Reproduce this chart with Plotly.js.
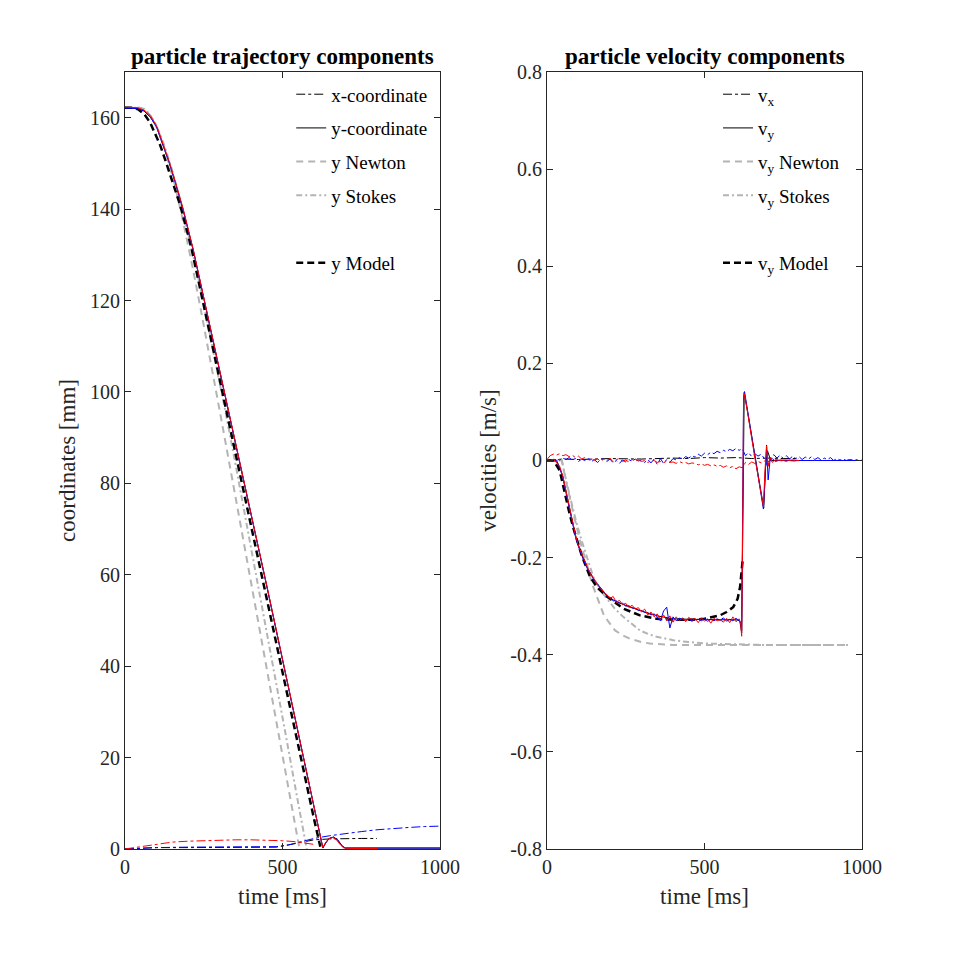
<!DOCTYPE html>
<html>
<head>
<meta charset="utf-8">
<script src="https://cdn.plot.ly/plotly-3.0.1.min.js"></script>
<style>
  html, body { margin: 0; padding: 0; background: #fff; }
  #chart { width: 958px; height: 954px; }
</style>
</head>
<body>
<div id="chart"></div>
<script>
// ---- left panel: positions [mm] over time [ms] ----
var tYRed = [0,20,40,60,80,100,122,140,160,185,217,250,300,350,400,450,500,550,590,610,628,635,645,659,670,685,695,720,760,803];
var yRed = [162.3,162.3,162.2,161.7,160.5,158.3,154.1,150.5,146.0,140.0,131.1,120.8,105.1,89.4,73.8,57.7,41.6,25.5,12.6,6.1,0.3,1.2,2.2,2.5,2.1,0.8,0.2,0.1,0.1,0.1];

var tYBlue = [0,20,40,60,80,100,122,140,160,185,217,250,300,350,400,450,500,550,590,610,628,637,648,662,675,690,700,720,800,900,1000];
var yBlue = [162.1,162.1,162.0,161.5,160.2,158.0,153.8,150.2,145.7,139.7,130.9,120.6,105.0,89.3,73.6,57.5,41.4,25.3,12.4,5.9,0.2,1.3,2.3,2.6,2.0,0.6,0.2,0.2,0.2,0.2,0.2];

var tXRed = [0,30,60,100,150,200,250,300,350,400,450,500,540,570,600];
var xRed = [0,0.3,0.7,1.1,1.5,1.7,1.85,1.95,2.0,2.0,1.95,1.8,1.6,1.3,1.0];

var tXBlue = [0,50,100,200,300,400,480,520,560,600,650,700,750,800,850,900,950,1000];
var xBlue = [0,0.2,0.3,0.4,0.4,0.45,0.5,0.9,1.6,2.3,2.9,3.4,3.8,4.2,4.5,4.7,4.9,5.0];

var tXBlk = [0,50,100,200,300,400,480,520,560,600,650,700,750,800];
var xBlk = [0,0.2,0.3,0.3,0.35,0.35,0.4,0.9,1.5,2.0,2.2,2.3,2.3,2.3];

var tYNew = [0,47,62,78,94,110,126,142,158,179,195,216,240,270,300,350,400,450,500,530,554];
var yNew = [162.2,162.2,161.8,160.7,158.8,156.3,153.2,149.5,145.3,139.1,133.9,126.8,118.2,107.4,96.1,77.3,58.3,39.3,20.3,8.9,0.0];

var tYSto = [0,47,62,78,94,110,126,147,170,190,215,242,270,295,320,348,401,450,507,545,577];
var ySto = [162.2,162.2,161.9,160.8,159.0,156.6,153.7,149.1,143.3,137.8,130.4,122.0,112.7,104.1,95.3,85.2,65.8,47.6,26.2,11.8,0.0];

var tYMod = [0,20,40,60,80,100,111,130,150,175,200,212,250,300,350,400,450,500,550,575,600,620];
var yMod = [162.2,162.2,161.9,160.9,158.9,156.0,154.1,150.3,146.2,140.9,134.4,131.1,118.9,102.8,86.7,70.6,54.5,38.4,22.3,14.2,6.6,0.5];

// ---- right panel: velocities [m/s] over time [ms] ----
var tVy = [0,10,20,30,40,50,60,70,80,90,100,110,120,130,140,150,160,170,180,190,200,210,220,230,240,250,260,270,280,290,300,310,320,330,340,350,360,370,380,390,400,410,420,430,440,450,460,470,480,490,500,510,520,530,540,550,560,570,580,590,600,610,615,618,621,624,627,630,640,650,660,670,680,687,692,697,702,708,715,725,740,760,780,800,850,900,950,1000];
var vyRed = [0.002,-0.001,0.003,-0.004,-0.012,-0.032,-0.062,-0.094,-0.128,-0.152,-0.176,-0.192,-0.210,-0.222,-0.236,-0.244,-0.256,-0.262,-0.272,-0.276,-0.284,-0.280,-0.292,-0.288,-0.297,-0.294,-0.303,-0.298,-0.306,-0.303,-0.312,-0.306,-0.318,-0.312,-0.322,-0.316,-0.328,-0.318,-0.330,-0.320,-0.333,-0.322,-0.330,-0.324,-0.332,-0.323,-0.329,-0.325,-0.334,-0.324,-0.331,-0.326,-0.335,-0.325,-0.330,-0.328,-0.333,-0.325,-0.334,-0.322,-0.332,-0.326,-0.338,-0.362,-0.150,0.120,0.138,0.125,0.085,0.045,0.005,-0.035,-0.075,-0.095,-0.020,0.030,-0.012,0.006,-0.004,0.002,0.000,0.001,-0.001,0.000];
var vyBlue = [0.000,0.001,-0.002,0.000,-0.014,-0.035,-0.066,-0.098,-0.130,-0.156,-0.178,-0.196,-0.212,-0.225,-0.234,-0.248,-0.254,-0.265,-0.270,-0.280,-0.283,-0.289,-0.289,-0.295,-0.294,-0.300,-0.299,-0.304,-0.304,-0.309,-0.309,-0.313,-0.314,-0.318,-0.316,-0.322,-0.330,-0.310,-0.302,-0.345,-0.322,-0.330,-0.325,-0.328,-0.330,-0.327,-0.331,-0.328,-0.327,-0.330,-0.326,-0.331,-0.327,-0.330,-0.326,-0.329,-0.324,-0.331,-0.327,-0.330,-0.325,-0.330,-0.334,-0.350,-0.050,0.130,0.142,0.130,0.090,0.050,0.010,-0.030,-0.072,-0.100,-0.040,0.032,-0.040,0.000,0.004,-0.002,0.001,0.000,0.001,0.000,0.000,0.000,0.000,0.000];

var tVyBlk = [0,30,50,70,90,110,130,150,170,190,210,240,270,300,350,400,450,500,550,600,612,618,622,626,640,660,680,688,694,700,710,730,800];
var vyBlk = [0,0,-0.032,-0.094,-0.154,-0.194,-0.223,-0.246,-0.263,-0.278,-0.287,-0.296,-0.303,-0.310,-0.320,-0.326,-0.327,-0.328,-0.328,-0.328,-0.330,-0.355,-0.100,0.140,0.088,0.008,-0.072,-0.098,-0.010,0.020,0.000,0.000,0.000];

var tVx = [0,10,20,30,40,50,60,70,80,90,100,110,120,130,140,150,160,170,180,190,200,210,220,230,240,250,260,270,280,290,300,310,320,330,340,350,360,370,380,390,400,410,420,430,440,450,460,470,480,490,500,510,520,530,540,550,560,570,580,590,600,610,620,630,640,650,660,670,680,690,700,710,720,730,740,750,760,770,780,790,800,810,820,830,840,850,860,870,880,890,900,910,920,930,940,950,960,970,980,990,1000];
var vxRed = [0.002,0.010,0.013,0.011,0.014,0.010,0.012,0.008,0.011,0.006,0.009,0.003,0.006,0.001,0.005,0.000,0.004,-0.002,0.003,0.000,0.005,-0.003,0.002,0.004,-0.002,0.001,-0.003,0.002,-0.001,0.001,-0.002,0.000,-0.004,-0.001,0.000,-0.004,-0.002,-0.005,-0.001,-0.004,-0.003,-0.006,-0.002,-0.005,-0.004,-0.007,-0.005,-0.006,-0.009,-0.007,-0.010,-0.008,-0.011,-0.009,-0.012,-0.010,-0.014,-0.011,-0.015,-0.012,-0.017,-0.013,-0.015,-0.004,-0.008,-0.003,-0.006,-0.002,-0.005,-0.001,-0.003,0.000,-0.002,0.001,-0.001,0.000,-0.002,0.001,0.000,-0.001,0.000];
var vxBlue = [0.000,0.002,-0.001,0.003,0.001,0.005,0.002,0.006,0.001,0.004,-0.002,0.003,0.000,0.005,-0.003,0.002,-0.004,0.001,0.004,-0.002,0.003,-0.005,0.000,-0.006,0.001,-0.003,0.002,-0.002,0.003,-0.001,0.001,-0.004,0.002,-0.005,0.003,-0.008,0.004,-0.006,0.002,-0.004,0.004,0.001,0.006,0.002,0.008,0.005,0.010,0.007,0.013,0.009,0.015,0.012,0.017,0.014,0.019,0.016,0.021,0.018,0.023,0.020,0.025,0.021,0.024,0.010,0.016,0.008,0.014,0.009,0.013,0.004,-0.012,0.006,0.012,0.005,0.011,0.004,0.010,0.003,0.009,0.004,0.008,0.002,0.007,0.003,0.008,0.002,0.006,0.001,0.005,0.002,0.006,0.000,0.004,0.001,0.003,0.000,0.002,0.001,0.002,0.000,0.001];

var tVxBlk = [0,50,100,200,300,400,450,500,550,600,650,700,750,800];
var vxBlk = [0,0.003,0.002,0.004,0.003,0.005,0.004,0.006,0.005,0.006,0.004,0.005,0.004,0.004];

var tVNew = [0,47,62,78,94,110,126,142,158,179,195,216,240,263,300,327,400,500,600,700,800,962];
var vNew = [0,0,-0.048,-0.096,-0.137,-0.178,-0.212,-0.252,-0.278,-0.316,-0.332,-0.350,-0.360,-0.367,-0.374,-0.377,-0.380,-0.380,-0.380,-0.380,-0.380,-0.380];

var tVSto = [0,47,62,78,94,110,126,147,170,190,215,242,270,295,320,348,401,450,507,600,700,800,962];
var vSto = [0,0,-0.045,-0.090,-0.130,-0.165,-0.197,-0.240,-0.268,-0.285,-0.305,-0.322,-0.337,-0.350,-0.357,-0.363,-0.370,-0.374,-0.377,-0.379,-0.380,-0.380,-0.380];

var tVMod = [0,20,40,52,60,70,84,100,110,137,160,190,242,295,348,400,454,500,549,570,591,605,613,621];
var vMod = [0,0,-0.020,-0.055,-0.080,-0.105,-0.140,-0.175,-0.195,-0.240,-0.262,-0.280,-0.305,-0.319,-0.326,-0.328,-0.328,-0.326,-0.319,-0.312,-0.302,-0.285,-0.260,-0.206];

var vTicks = [-0.8,-0.6,-0.4,-0.2,0,0.2,0.4,0.6,0.8];
var vTickText = ['-0.8','-0.6','-0.4','-0.2','0','0.2','0.4','0.6','0.8'];

var serif = "'Times New Roman', 'Liberation Serif', serif";
var grey = '#b4b4b4';
var red = '#ff0000';
var blue = '#0000ff';

function line(x, y, color, width, dash, extra) {
  var tr = {
    x: x, y: y, type: 'scatter', mode: 'lines',
    line: { color: color, width: width, dash: dash || 'solid' },
    hoverinfo: 'skip', showlegend: false
  };
  for (var k in extra) tr[k] = extra[k];
  return tr;
}

var data = [
  // left panel, legend entries first
  line(tXBlk, xBlk, '#000', 1, 'dashdot', {name: 'x-coordinate', showlegend: true, legendgroup: 'a'}),
  line(tYBlue, yBlue, '#000', 1, 'solid', {name: 'y-coordinate', showlegend: true, legendgroup: 'b'}),
  line(tYNew, yNew, grey, 2, '7px,5px', {name: 'y Newton', showlegend: true, legendgroup: 'c'}),
  line(tYSto, ySto, grey, 2, '6px,3px,2px,3px', {name: 'y Stokes', showlegend: true, legendgroup: 'd'}),
  line([null], [null], 'rgba(0,0,0,0)', 1, 'solid', {name: ' ', showlegend: true, legendgroup: 'e'}),
  line(tYMod, yMod, '#000', 2.5, '7px,4px', {name: 'y Model', showlegend: true, legendgroup: 'f'}),
  line(tXBlue, xBlue, blue, 1, 'dashdot'),
  line(tXRed, xRed, red, 1, 'dashdot'),
  line(tYBlue, yBlue, blue, 1),
  line(tYRed, yRed, red, 1),

  // right panel
  line(tVxBlk, vxBlk, '#000', 1, 'dashdot', {xaxis: 'x2', yaxis: 'y2', legend: 'legend2', name: 'v<sub>x</sub>', showlegend: true, legendgroup: 'g'}),
  line(tVyBlk, vyBlk, '#000', 1, 'solid', {xaxis: 'x2', yaxis: 'y2', legend: 'legend2', name: 'v<sub>y</sub>', showlegend: true, legendgroup: 'h'}),
  line(tVNew, vNew, grey, 2, '7px,5px', {xaxis: 'x2', yaxis: 'y2', legend: 'legend2', name: 'v<sub>y</sub> Newton', showlegend: true, legendgroup: 'i'}),
  line(tVSto, vSto, grey, 2, '6px,3px,2px,3px', {xaxis: 'x2', yaxis: 'y2', legend: 'legend2', name: 'v<sub>y</sub> Stokes', showlegend: true, legendgroup: 'j'}),
  line([null], [null], 'rgba(0,0,0,0)', 1, 'solid', {xaxis: 'x2', yaxis: 'y2', legend: 'legend2', name: ' ', showlegend: true, legendgroup: 'k'}),
  line(tVMod, vMod, '#000', 2.5, '7px,4px', {xaxis: 'x2', yaxis: 'y2', legend: 'legend2', name: 'v<sub>y</sub> Model', showlegend: true, legendgroup: 'l'}),
  line(tVx, vxBlue, blue, 1, 'dashdot', {xaxis: 'x2', yaxis: 'y2'}),
  line(tVx, vxRed, red, 1, 'dashdot', {xaxis: 'x2', yaxis: 'y2'}),
  line(tVy, vyBlue, blue, 1, 'solid', {xaxis: 'x2', yaxis: 'y2'}),
  line(tVy, vyRed, red, 1, 'solid', {xaxis: 'x2', yaxis: 'y2'})
];

var axisBase = {
  showline: true, linecolor: '#262626', linewidth: 1, mirror: 'ticks',
  ticks: 'inside', ticklen: 6, tickcolor: '#262626',
  showgrid: false, zeroline: false, fixedrange: true,
  tickfont: { family: serif, size: 20, color: '#262626' }
};

function axis(extra) {
  var a = JSON.parse(JSON.stringify(axisBase));
  for (var k in extra) a[k] = extra[k];
  return a;
}

var titleFont = { family: serif, size: 23, color: '#262626' };

var legendBase = {
  bgcolor: 'rgba(0,0,0,0)', borderwidth: 0,
  font: { family: serif, size: 19, color: '#000' },
  traceorder: 'grouped', tracegroupgap: 6,
  xanchor: 'left', yanchor: 'top'
};

var layout = {
  width: 958, height: 954,
  margin: { l: 0, r: 0, t: 0, b: 0 },
  paper_bgcolor: '#fff', plot_bgcolor: '#fff',
  showlegend: true,
  font: { family: serif },
  xaxis: axis({ domain: [0.1305, 0.4593], range: [0, 1000], tickvals: [0, 500, 1000], anchor: 'y',
    title: { text: 'time [ms]', font: titleFont, standoff: 10 } }),
  yaxis: axis({ domain: [0.1101, 0.9245], range: [0, 170], tickvals: [0, 20, 40, 60, 80, 100, 120, 140, 160], anchor: 'x',
    title: { text: 'coordinates [mm]', font: titleFont, standoff: 7 } }),
  xaxis2: axis({ domain: [0.571, 0.8998], range: [0, 1000], tickvals: [0, 500, 1000], anchor: 'y2',
    title: { text: 'time [ms]', font: titleFont, standoff: 10 } }),
  yaxis2: axis({ domain: [0.1101, 0.9245], range: [-0.8, 0.8], tickvals: vTicks, ticktext: vTickText, anchor: 'x2',
    title: { text: 'velocities [m/s]', font: titleFont, standoff: 7 } }),
  legend: Object.assign({}, legendBase, { x: 0.304, y: 0.921 }),
  legend2: Object.assign({}, legendBase, { x: 0.7495, y: 0.921 }),
  annotations: [
    { text: '<b>particle trajectory components</b>', xref: 'paper', yref: 'paper', x: 0.2949, y: 0.9245,
      xanchor: 'center', yanchor: 'bottom', yshift: 1, showarrow: false,
      font: { family: serif, size: 23, color: '#000' } },
    { text: '<b>particle velocity components</b>', xref: 'paper', yref: 'paper', x: 0.7354, y: 0.9245,
      xanchor: 'center', yanchor: 'bottom', yshift: 1, showarrow: false,
      font: { family: serif, size: 23, color: '#000' } }
  ]
};

var config = { displayModeBar: false, staticPlot: true };

Plotly.newPlot('chart', data, layout, config);
</script>
</body>
</html>
